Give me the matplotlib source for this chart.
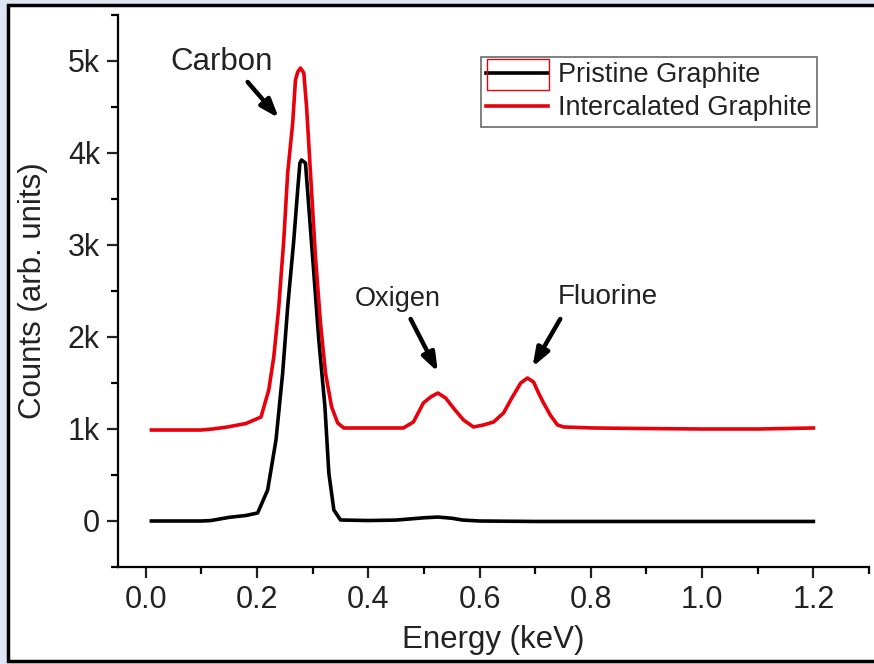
import numpy as np
import matplotlib
matplotlib.use('Agg')
import matplotlib.pyplot as plt
from matplotlib.patches import Rectangle
from matplotlib.ticker import MultipleLocator, FuncFormatter

plt.rcParams['font.family'] = ['Liberation Sans', 'DejaVu Sans']

# DATA
energy_pristine = [0.01, 0.05, 0.10, 0.117, 0.15, 0.18, 0.201, 0.219, 0.234, 0.246, 0.255,
                   0.266, 0.273, 0.277, 0.280, 0.287, 0.293, 0.302, 0.311, 0.322, 0.329,
                   0.338, 0.350, 0.40, 0.45, 0.48, 0.50, 0.525, 0.55, 0.57, 0.60, 0.70,
                   0.80, 0.90, 1.00, 1.10, 1.20]
counts_pristine = [0, 0, 0, 5, 40, 60, 87, 337, 880, 1609, 2326,
                   3054, 3598, 3891, 3924, 3891, 3413, 2696, 1967, 1239, 522,
                   120, 11, 5, 10, 25, 35, 43, 30, 10, 0, -5,
                   -5, -5, -5, -5, -5]

energy_intercal = [0.01, 0.05, 0.099, 0.12, 0.147, 0.18, 0.207, 0.221, 0.230, 0.239, 0.248,
                   0.255, 0.264, 0.269, 0.273, 0.278, 0.284, 0.289, 0.296, 0.305, 0.314,
                   0.323, 0.334, 0.345, 0.356, 0.40, 0.463, 0.481, 0.499, 0.512, 0.525,
                   0.539, 0.553, 0.571, 0.589, 0.607, 0.625, 0.643, 0.659, 0.674, 0.686,
                   0.697, 0.706, 0.715, 0.727, 0.740, 0.751, 0.805, 0.90, 1.00, 1.10, 1.20]
counts_intercal = [989, 989, 989, 1000, 1022, 1060, 1130, 1424, 1783, 2326, 3054,
                   3783, 4326, 4793, 4880, 4924, 4870, 4500, 3783, 2870, 2152,
                   1609, 1239, 1065, 1011, 1011, 1011, 1076, 1283, 1348, 1391,
                   1337, 1228, 1098, 1022, 1044, 1076, 1174, 1348, 1500, 1554,
                   1511, 1391, 1283, 1152, 1044, 1022, 1011, 1005, 1000, 1000, 1011]

peak_names = ['Carbon', 'Oxigen', 'Fluorine']
peak_fontsize = [22.5, 19.5, 20]
label_xy = [(0.137, 4990), (0.453, 2413), (0.830, 2435)]
arrow_start = [(0.183, 4772), (0.476, 2196), (0.745, 2196)]
arrow_end = [(0.239, 4380), (0.525, 1620), (0.695, 1674)]

# FIGURE
fig = plt.figure(figsize=(8.74, 6.64), dpi=100)
fig.patch.set_facecolor('#dde6f3')

# white frame with black border
frame = Rectangle((8 / 874, 3 / 664), 1.0, 656 / 664, transform=fig.transFigure,
                  facecolor='white', edgecolor='black', lw=2.5, zorder=-10)
fig.patches.append(frame)

ax = fig.add_axes([118 / 874, 97 / 664, 751 / 874, 552 / 664])
ax.set_facecolor('none')

ax.plot(energy_pristine, counts_pristine, color='black', lw=2.6, label='Pristine Graphite')
ax.plot(energy_intercal, counts_intercal, color='#e8000b', lw=2.6, label='Intercalated Graphite')

ax.set_xlim(-0.05, 1.3)
ax.set_ylim(-500, 5500)

for sp in ['top', 'right']:
    ax.spines[sp].set_visible(False)
for sp in ['left', 'bottom']:
    ax.spines[sp].set_linewidth(1.6)

ax.xaxis.set_major_locator(MultipleLocator(0.2))
ax.xaxis.set_minor_locator(MultipleLocator(0.1))
ax.yaxis.set_major_locator(MultipleLocator(1000))
ax.yaxis.set_minor_locator(MultipleLocator(500))
ax.xaxis.set_major_formatter(FuncFormatter(lambda v, p: '%.1f' % v))
ax.yaxis.set_major_formatter(FuncFormatter(lambda v, p: '0' if v == 0 else '%dk' % round(v / 1000)))
ax.tick_params(which='major', direction='out', length=8, width=1.6, labelsize=22,
               colors='#222222', pad=5)
ax.tick_params(which='minor', direction='out', length=5, width=1.6)

ax.set_xlabel('Energy (keV)', fontsize=22.5, color='#222222', labelpad=7)
ax.set_ylabel('Counts (arb. units)', fontsize=22.5, color='#222222', labelpad=14)

for name, fs, txt, s, e in zip(peak_names, peak_fontsize, label_xy, arrow_start, arrow_end):
    ax.text(txt[0], txt[1], name, fontsize=fs, ha='center', va='center', color='#222222')
    ax.annotate('', xy=e, xytext=s,
                arrowprops=dict(arrowstyle='-|>,head_length=1.1,head_width=0.4',
                                color='black', lw=3.2, shrinkA=0, shrinkB=0))

leg = ax.legend(loc='upper right', bbox_to_anchor=(817 / 874, 607 / 664),
                bbox_transform=fig.transFigure, fontsize=19.5, frameon=True,
                fancybox=False, handlelength=2.3, handletextpad=0.35,
                borderpad=0.2, labelspacing=0.25, borderaxespad=0)
leg.get_frame().set_edgecolor('#444444')
leg.get_frame().set_linewidth(1.2)
for t in leg.get_texts():
    t.set_color('#222222')

# red selection box around the first legend handle (as in the picture)
fig.patches.append(Rectangle((487 / 874, (664 - 90) / 664), 62 / 874, 31 / 664,
                             transform=fig.transFigure, fill=False,
                             edgecolor='#e8000b', lw=1.0, zorder=10))

fig.savefig('out.png', dpi=100, facecolor=fig.get_facecolor())
